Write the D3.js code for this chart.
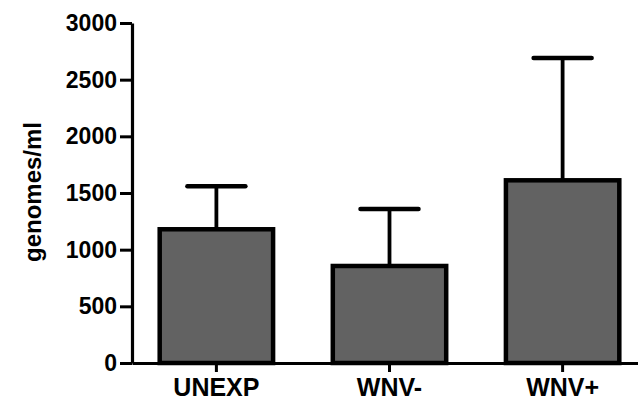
<!DOCTYPE html>
<html>
<head>
<meta charset="utf-8">
<script src="https://cdn.jsdelivr.net/npm/d3@7"></script>
<style>
    body { margin: 0; background: #fff; }
    svg text { font-family: "Liberation Sans", Arial, sans-serif; font-weight: bold; fill: #000; }
</style>
</head>
<body>
<div id="canvas"></div>
<script>
// data
var categories = ['UNEXP', 'WNV-', 'WNV+']
var means = [1180, 856, 1612]
var errors = [379, 503, 1079]
var yTicks = [0, 500, 1000, 1500, 2000, 2500, 3000]

var width = 638
var height = 401
var margin = { top: 23, left: 132, bottom: 38 }

var svg = d3.select('#canvas')
    .append('svg')
    .attr('width', width)
    .attr('height', height)

var y = d3.scaleLinear()
    .domain([0, 3000])
    .range([height - margin.bottom, margin.top])

var x = d3.scaleBand()
    .domain(categories)
    .range([margin.left, 647])
    .paddingInner(0.345)
    .paddingOuter(0.16)

var data = categories.map(function (c, i) {
    return { label: c, mean: means[i], err: errors[i] }
})

//bars
svg.append('g')
    .selectAll('rect')
    .data(data)
    .enter().append('rect')
    .attr('x', function (d) { return x(d.label) })
    .attr('y', function (d) { return y(d.mean) })
    .attr('width', x.bandwidth())
    .attr('height', function (d) { return y(0) - y(d.mean) })
    .attr('fill', '#626262')
    .attr('stroke', '#000')
    .attr('stroke-width', 4.5)

//error bars, upper only
var err = svg.append('g')
    .selectAll('g')
    .data(data)
    .enter().append('g')

err.append('line')
    .attr('x1', function (d) { return x(d.label) + x.bandwidth() / 2 })
    .attr('x2', function (d) { return x(d.label) + x.bandwidth() / 2 })
    .attr('y1', function (d) { return y(d.mean) })
    .attr('y2', function (d) { return y(d.mean + d.err) })
    .attr('stroke', '#000')
    .attr('stroke-width', 3.8)

err.append('line')
    .attr('x1', function (d) { return x(d.label) + x.bandwidth() / 2 - 29 })
    .attr('x2', function (d) { return x(d.label) + x.bandwidth() / 2 + 29 })
    .attr('y1', function (d) { return y(d.mean + d.err) })
    .attr('y2', function (d) { return y(d.mean + d.err) })
    .attr('stroke', '#000')
    .attr('stroke-width', 4.5)
    .attr('stroke-linecap', 'round')

//y axis
var yAxis = svg.append('g')
    .attr('transform', 'translate(' + margin.left + ',0)')
    .call(d3.axisLeft(y).tickValues(yTicks).tickFormat(d3.format('d'))
        .tickSize(12).tickSizeOuter(0).tickPadding(3))
yAxis.select('.domain').attr('stroke-width', 3.2)
yAxis.selectAll('.tick line').attr('stroke-width', 3)
yAxis.selectAll('.tick text')
    .style('font-size', '23px')
    .style('font-weight', 'bold')
    .style('font-family', '"Liberation Sans", Arial, sans-serif')

//x axis
var xAxis = svg.append('g')
    .attr('transform', 'translate(0,' + y(0) + ')')
    .call(d3.axisBottom(x).tickSize(9).tickSizeOuter(0).tickPadding(6))
xAxis.select('.domain').attr('stroke-width', 3.2)
xAxis.selectAll('.tick line').attr('stroke-width', 3)
xAxis.selectAll('.tick text')
    .style('font-size', '25px')
    .style('font-weight', 'bold')
    .style('font-family', '"Liberation Sans", Arial, sans-serif')

//y label
svg.append('text')
    .attr('transform', 'translate(41,' + (y(1500) - 1) + ') rotate(-90)')
    .attr('text-anchor', 'middle')
    .style('font-size', '24px')
    .text('genomes/ml')
</script>
</body>
</html>
